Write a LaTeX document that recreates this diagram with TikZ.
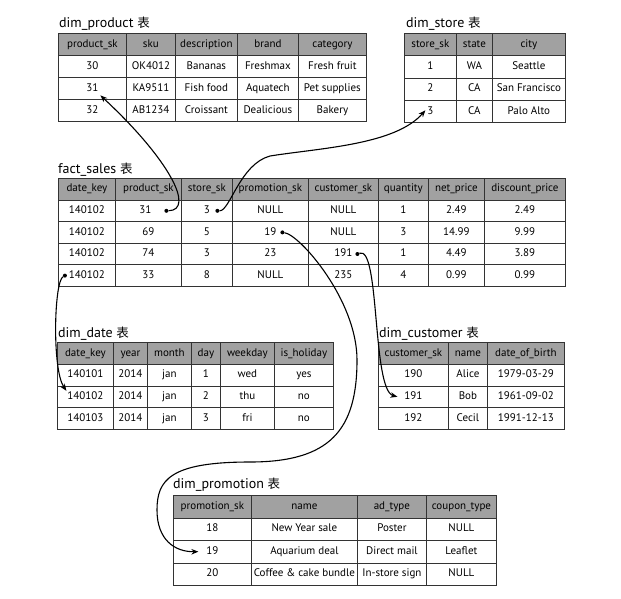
\documentclass[tikz,border=0pt]{standalone}
\usepackage{fontspec}
\setmainfont{PT Sans}
\newfontfamily\cjk{Noto Sans CJK SC}
\usetikzlibrary{matrix,calc,arrows.meta}
\newcommand\biao{{\cjk\fontsize{12.5}{15}\selectfont 表}}
\begin{document}
\begin{tikzpicture}[x=1pt,y=-1pt,
  tbl/.style={matrix of nodes, inner sep=0pt, outer sep=0pt, anchor=north west,
    column sep=-0.8pt, row sep=-0.8pt,
    nodes={draw=black!80, line width=0.8pt, inner sep=0pt, outer sep=0pt, anchor=center,
      text height=8pt, text depth=2.5pt, font=\fontsize{11}{13}\selectfont},
    row 1/.style={nodes={fill=black!37}}},
  ttl/.style={anchor=base west, inner sep=0pt, font=\fontsize{14}{16}\selectfont},
  dotn/.style={circle, fill=black, inner sep=0pt, minimum size=4pt},
  conn/.style={line width=1.1pt, -{Stealth[length=7pt,width=5.5pt]}}
]
\useasboundingbox (0,0) rectangle (621,598);

% dim_product
\node[ttl] (tprodt) at (59,27) {dim\_product \biao};
\matrix[tbl, nodes={minimum height=22},
  column 1/.style={nodes={minimum width=68}},
  column 2/.style={nodes={minimum width=49}},
  column 3/.style={nodes={minimum width=62}},
  column 4/.style={nodes={minimum width=61}},
  column 5/.style={nodes={minimum width=68}}] (prod) at (58,33) {
product\_sk & sku & description & brand & category \\
30 & OK4012 & Bananas & Freshmax & Fresh fruit \\
31 & KA9511 & Fish food & Aquatech & Pet supplies \\
32 & AB1234 & Croissant & Dealicious & Bakery \\
};

% dim_store
\node[ttl] (tstoret) at (406,27) {dim\_store \biao};
\matrix[tbl, nodes={minimum height=22.25},
  column 1/.style={nodes={minimum width=52}},
  column 2/.style={nodes={minimum width=36}},
  column 3/.style={nodes={minimum width=73}}] (store) at (404,33) {
store\_sk & state & city \\
1 & WA & Seattle \\
2 & CA & San Francisco \\
3 & CA & Palo Alto \\
};

% fact_sales
\node[ttl] (tfactt) at (58,173) {fact\_sales \biao};
\matrix[tbl, nodes={minimum height=21.6},
  column 1/.style={nodes={minimum width=57}},
  column 2/.style={nodes={minimum width=66}},
  column 3/.style={nodes={minimum width=51}},
  column 4/.style={nodes={minimum width=76}},
  column 5/.style={nodes={minimum width=70}},
  column 6/.style={nodes={minimum width=50}},
  column 7/.style={nodes={minimum width=56}},
  column 8/.style={nodes={minimum width=81}}] (fact) at (58,178) {
date\_key & product\_sk & store\_sk & promotion\_sk & customer\_sk & quantity & net\_price & discount\_price \\
140102 & 31\hspace{6pt} & 3 & NULL & NULL & 1 & 2.49 & 2.49 \\
140102 & 69 & 5 & 19 & NULL & 3 & 14.99 & 9.99 \\
140102 & 74 & 3 & 23 & 191 & 1 & 4.49 & 3.89 \\
140102 & 33 & 8 & NULL & 235 & 4 & 0.99 & 0.99 \\
};

% dim_date
\node[ttl] (tdatet) at (58,337) {dim\_date \biao};
\matrix[tbl, nodes={minimum height=21.75},
  column 1/.style={nodes={minimum width=56}},
  column 2/.style={nodes={minimum width=34}},
  column 3/.style={nodes={minimum width=44}},
  column 4/.style={nodes={minimum width=29}},
  column 5/.style={nodes={minimum width=54}},
  column 6/.style={nodes={minimum width=59}}] (date) at (57,342) {
date\_key & year & month & day & weekday & is\_holiday \\
140101 & 2014 & jan & 1 & wed & yes \\
140102 & 2014 & jan & 2 & thu & no \\
140103 & 2014 & jan & 3 & fri & no \\
};

% dim_customer
\node[ttl] (tcustt) at (379,337) {dim\_customer \biao};
\matrix[tbl, nodes={minimum height=21.75},
  column 1/.style={nodes={minimum width=70}},
  column 2/.style={nodes={minimum width=39}},
  column 3/.style={nodes={minimum width=77}}] (cust) at (378,342) {
customer\_sk & name & date\_of\_birth \\
190 & Alice & 1979-03-29 \\
191 & Bob & 1961-09-02 \\
192 & Cecil & 1991-12-13 \\
};

% dim_promotion
\node[ttl] (tpromot) at (173,488) {dim\_promotion \biao};
\matrix[tbl, nodes={minimum height=22.5},
  column 1/.style={nodes={minimum width=78}},
  column 2/.style={nodes={minimum width=106}},
  column 3/.style={nodes={minimum width=69}},
  column 4/.style={nodes={minimum width=70}}] (promo) at (173,495) {
promotion\_sk & name & ad\_type & coupon\_type \\
18 & New Year sale & Poster & NULL \\
19 & Aquarium deal & Direct mail & Leaflet \\
20 & Coffee \& cake bundle & In-store sign & NULL \\
};

% dots (start points)
\node[dotn] (dprod)  at ($(fact-2-2.center)+(18,0)$) {};
\node[dotn] (dstore) at ($(fact-2-3.center)+(10.5,0)$) {};
\node[dotn] (dpromo) at ($(fact-3-4.center)+(12,0)$) {};
\node[dotn] (dcust)  at ($(fact-4-5.center)+(14,0)$) {};
\node[dotn] (ddate)  at ($(fact-5-1.center)+(-22,0)$) {};

% arrow targets
\coordinate (tprod)  at ($(prod-3-1.center)+(8,7)$);
\coordinate (tstore) at ($(store-4-1.center)+(-5,-1)$);
\coordinate (tdate)  at ($(date-3-1.center)+(-19,-6)$);
\coordinate (tcust)  at ($(cust-3-1.center)+(-16,0)$);
\coordinate (tpromo) at ($(promo-3-1.center)+(-14,0)$);

% connectors
\draw[conn] (dprod) .. controls (195,210) and (170,160) .. (tprod);
\draw[conn] (dstore) .. controls (230,211) and (240,164) .. (270,156)
  .. controls (320,148) and (395,145) .. (tstore);
\draw[conn] (dpromo) .. controls (300,235) and (357,300) .. (357,360)
  .. controls (357,430) and (330,462) .. (250,462)
  .. controls (170,462) and (157,480) .. (157,510)
  .. controls (157,540) and (175,552) .. (tpromo);
\draw[conn] (ddate) .. controls (54,282) and (52,370) .. (tdate);
\draw[conn] (dcust) .. controls (380,245) and (372,390) .. (tcust);
\end{tikzpicture}
\end{document}
